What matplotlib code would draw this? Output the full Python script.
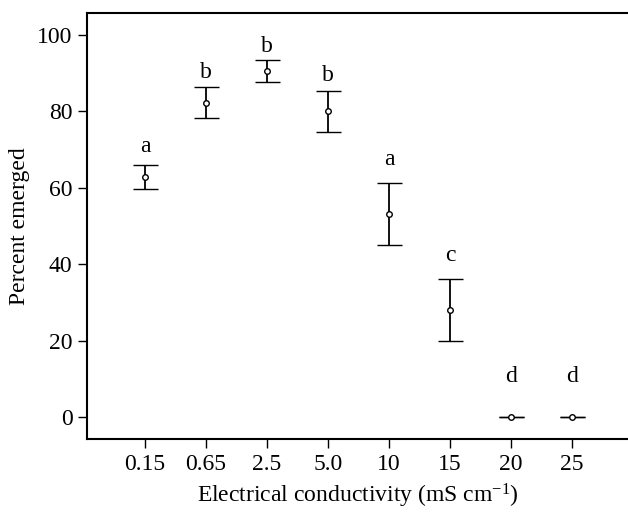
import matplotlib
matplotlib.use("Agg")
import matplotlib.pyplot as plt
import numpy as np

plt.rcParams['font.family'] = ['Liberation Serif', 'DejaVu Serif']
plt.rcParams['mathtext.fontset'] = 'custom'
plt.rcParams['mathtext.rm'] = 'Liberation Serif'
plt.rcParams['mathtext.it'] = 'Liberation Serif:italic'

# datos
conductividad = ["0.15", "0.65", "2.5", "5.0", "10", "15", "20", "25"]
emergencia = [62.9, 82.3, 90.7, 80.0, 53.1, 28.0, 0.0, 0.0]
error = [3.1, 4.1, 2.9, 5.3, 8.2, 8.1, 0.0, 0.0]
letras = ["a", "b", "b", "b", "a", "c", "d", "d"]
letras_y = [70.7, 90.3, 96.9, 89.5, 67.3, 42.4, 10.5, 10.5]

fig = plt.figure(figsize=(6.28, 5.12), dpi=100)
ax = fig.add_axes([87/628, 73/512, 541/628, 426/512])

x = np.arange(len(conductividad))
ax.errorbar(x, emergencia, yerr=error, fmt='o', color='black', mfc='white',
            mec='black', ms=4, mew=1.0, elinewidth=1.3, capsize=9, capthick=1.3)

for xi, letra, ly in zip(x, letras, letras_y):
    ax.text(xi, ly, letra, ha='center', va='center', fontsize=17)

ax.set_xticks(x)
ax.set_xticklabels(conductividad)
ax.set_yticks([0, 20, 40, 60, 80, 100])
ax.set_xlim(-0.95, 7.92)
ax.set_ylim(-5.8, 105.8)

ax.spines['right'].set_visible(False)
for s in ['left', 'bottom', 'top']:
    ax.spines[s].set_linewidth(1.5)
ax.tick_params(direction='out', length=6.5, width=1.0, labelsize=17, pad=4)

ax.set_xlabel(r"Electrical conductivity (mS cm$^{\mathrm{-1}}$)", fontsize=17, labelpad=5)
ax.set_ylabel("Percent emerged", fontsize=17, labelpad=5)

fig.savefig("out.png", dpi=100)
